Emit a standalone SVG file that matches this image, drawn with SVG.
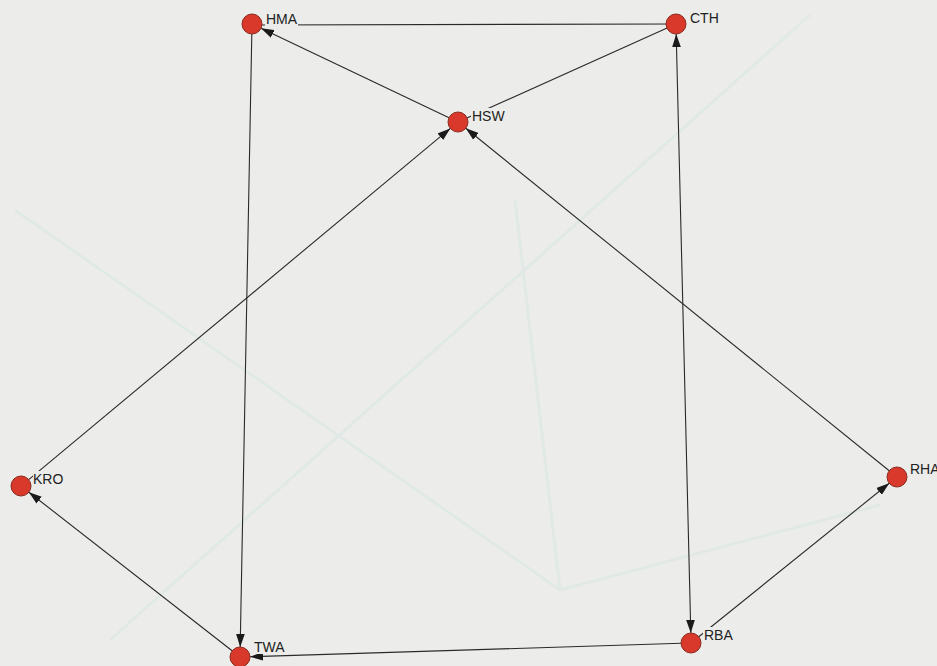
<svg xmlns="http://www.w3.org/2000/svg" width="937" height="666" viewBox="0 0 937 666">
<defs>
<marker id="arr" viewBox="0 0 12 8" refX="12" refY="4" markerWidth="13" markerHeight="9" markerUnits="userSpaceOnUse" orient="auto-start-reverse">
<path d="M0,0 L12,4 L0,8 z" fill="#1a1a1a"/>
</marker>
<style>
.e{stroke:#2a2a2a;stroke-width:1.1;fill:none}
.g{stroke:#dbe8e5;stroke-width:3;fill:none}
.n{fill:#d8392b;stroke:#8a2a20;stroke-width:1}
.lb{fill:#ecedea}
.t{font-family:"Liberation Sans",Arial,sans-serif;font-size:14px;fill:#222}
</style>
</defs>
<rect width="937" height="666" fill="#ecedea"/>
<g id="ghost" opacity="0.6">
<line class="g" x1="15" y1="210" x2="560" y2="590"/>
<line class="g" x1="110" y1="640" x2="810" y2="15"/>
<line class="g" x1="515" y1="200" x2="560" y2="590"/>
<line class="g" x1="560" y1="590" x2="880" y2="505"/>
</g>
<g id="connectors">
<line class="e" x1="252" y1="25" x2="676" y2="24"/>
<line class="e" x1="458" y1="122" x2="676" y2="24"/>
<line class="e" x1="449" y1="117.7" x2="261" y2="28.3" marker-end="url(#arr)"/>
<line class="e" x1="251.8" y1="34" x2="240.2" y2="647" marker-end="url(#arr)"/>
<line class="e" x1="676.2" y1="34" x2="690.8" y2="633" marker-start="url(#arr)" marker-end="url(#arr)"/>
<line class="e" x1="28.7" y1="479.6" x2="450.3" y2="128.4" marker-end="url(#arr)"/>
<line class="e" x1="889.2" y1="470.7" x2="465.8" y2="128.3" marker-end="url(#arr)"/>
<line class="e" x1="232.1" y1="650.8" x2="28.9" y2="492.2" marker-end="url(#arr)"/>
<line class="e" x1="698.8" y1="636.7" x2="889.2" y2="483.3" marker-end="url(#arr)"/>
<line class="e" x1="681" y1="643.3" x2="250" y2="656.7" marker-end="url(#arr)"/>
</g>
<g id="HMA"><circle class="n" cx="252" cy="24" r="10"/><rect class="lb" x="265" y="11" width="33" height="16"/><text class="t" x="266" y="24">HMA</text></g>
<g id="CTH"><circle class="n" cx="676" cy="24" r="10"/><rect class="lb" x="689" y="11" width="31" height="16"/><text class="t" x="690" y="23">CTH</text></g>
<g id="HSW"><circle class="n" cx="458" cy="122" r="10"/><rect class="lb" x="471" y="108" width="36" height="16"/><text class="t" x="472" y="121">HSW</text></g>
<g id="KRO"><circle class="n" cx="21" cy="486" r="10"/><rect class="lb" x="33" y="471" width="32" height="15"/><text class="t" x="33" y="484">KRO</text></g>
<g id="RHA"><circle class="n" cx="897" cy="477" r="10"/><rect class="lb" x="909" y="461" width="28" height="15"/><text class="t" x="910" y="474">RHA</text></g>
<g id="TWA"><circle class="n" cx="240" cy="657" r="10"/><rect class="lb" x="253" y="639" width="34" height="15"/><text class="t" x="254" y="652">TWA</text></g>
<g id="RBA"><circle class="n" cx="691" cy="643" r="10"/><rect class="lb" x="703" y="627" width="32" height="15"/><text class="t" x="704" y="640">RBA</text></g>
</svg>
